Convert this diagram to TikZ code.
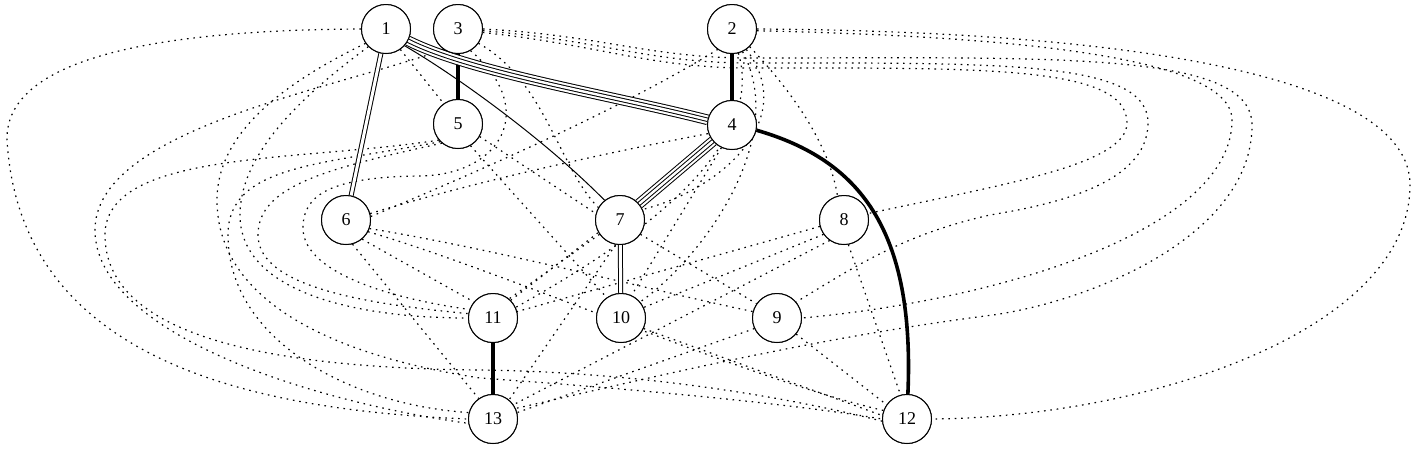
\documentclass[tikz,border=0pt]{standalone}
\usepackage{fontspec}
\setmainfont{Liberation Serif}
\begin{document}
\begin{tikzpicture}[x=1pt,y=-1pt,
  v/.style={circle,draw,line width=1pt,minimum size=49pt,inner sep=0pt,fill=white,font=\fontsize{18}{18}\selectfont},
  dt/.style={line width=1.2pt,dash pattern=on 1.6pt off 4.8pt},
  thk/.style={line width=3.6pt},
  sol/.style={line width=1pt},
  dbl/.style={double,double distance=3pt,line width=1pt},
  quad/.style={double,double distance=2.4pt,line width=1pt,preaction={draw,double,double distance=8.6pt,line width=1pt}}
]
\useasboundingbox (0,0) rectangle (1415,451);
\node[v] (n1) at (386,29) {1};
\node[v] (n3) at (458,29) {3};
\node[v] (n2) at (732,29) {2};
\node[v] (n5) at (458,124) {5};
\node[v] (n4) at (732,125) {4};
\node[v] (n6) at (346,220) {6};
\node[v] (n7) at (620,220) {7};
\node[v] (n8) at (844,220) {8};
\node[v] (n11) at (493,318) {11};
\node[v] (n10) at (621,318) {10};
\node[v] (n9) at (777,318) {9};
\node[v] (n13) at (493,419) {13};
\node[v] (n12) at (907,419) {12};

% right loops
\draw[dt] (n2.east) .. controls (1100,31) and (1410,70) .. (1410,185) .. controls (1410,330) and (1150,417) .. (n12.east);
\draw[dt] (n2.-4) .. controls (1000,36) and (1232,55) .. (1232,120) .. controls (1232,230) and (1000,300) .. (n9.east);
\draw[dt] (n3.east) .. controls (600,35) and (650,58) .. (750,58) .. controls (1050,58) and (1252,50) .. (1252,125) .. controls (1252,240) and (1080,305) .. (985,316) .. controls (800,340) and (620,385) .. (n13.25);
\draw[dt] (n3.-4) .. controls (600,40) and (650,63) .. (750,63) .. controls (1000,63) and (1148,60) .. (1148,123) .. controls (1148,185) and (1050,205) .. (990,215) .. controls (900,235) and (850,270) .. (n9.40);
\draw[dt] (n3.-8) .. controls (600,45) and (650,68) .. (750,68) .. controls (980,68) and (1127,65) .. (1127,123) .. controls (1127,165) and (1000,185) .. (n8.15);

% left loops
\draw[dt] (n1.west) .. controls (150,30) and (5,60) .. (7,140) .. controls (20,360) and (250,410) .. (n13.west);
\draw[dt] (n3.235) .. controls (330,90) and (95,130) .. (95,230) .. controls (95,330) and (300,400) .. (n13.190);
\draw[dt] (n5.220) .. controls (300,162) and (105,150) .. (105,235) .. controls (105,330) and (250,368) .. (480,370) .. controls (650,372) and (800,400) .. (n12.185);
\draw[dt] (n1.215) .. controls (290,80) and (217,130) .. (217,200) .. controls (217,300) and (330,355) .. (480,378) .. controls (650,390) and (800,405) .. (n12.180);
\draw[dt] (n1.225) .. controls (310,90) and (240,150) .. (240,215) .. controls (240,290) and (350,318) .. (n11.west);
\draw[dt] (n5.225) .. controls (320,165) and (228,165) .. (228,235) .. controls (228,340) and (350,405) .. (n13.165);
\draw[dt] (n5.230) .. controls (330,168) and (258,185) .. (258,235) .. controls (258,290) and (380,305) .. (n11.170);
\draw[dt] (n3.-60) .. controls (540,110) and (500,175) .. (420,176) .. controls (330,177) and (303,195) .. (303,228) .. controls (303,275) and (400,300) .. (n11.160);

% middle
\draw[dt] (n1.-55) -- (n5.125);
\draw[dt] (n6.15) .. controls (480,180) and (620,150) .. (n4.200);
\draw[dt] (n6.8) .. controls (470,175) and (620,110) .. (n2.235);
\draw[dt] (n6.-20) .. controls (500,250) and (650,290) .. (n9.165);
\draw[dt] (n6.-28) .. controls (500,270) and (750,380) .. (n12.160);
\draw[dt] (n6.-75) -- (n13.125);
\draw[dt] (n6.-50) -- (n11.140);
\draw[dt] (n5.-30) -- (n7.165);
\draw[dt] (n5.-60) -- (n10.125);
\draw[dt] (n4.225) -- (n11.45);
\draw[dt] (n4.245) -- (n10.65);
\draw[dt] (n2.-55) .. controls (800,120) and (720,190) .. (n7.25);
\draw[dt] (n2.-45) .. controls (800,100) and (830,150) .. (n8.105);
\draw[dt] (n2.-65) .. controls (790,140) and (700,260) .. (n10.40);
\draw[dt] (n2.-75) .. controls (770,160) and (600,260) .. (n11.25);
\draw[dt] (n3.-35) .. controls (545,80) and (560,170) .. (n7.150);
\draw[dt] (n7.-100) -- (n13.50);
\draw[dt] (n7.-35) -- (n9.145);
\draw[dt] (n7.215) -- (n11.50);
\draw[dt] (n8.195) -- (n11.15);
\draw[dt] (n8.215) -- (n10.25);
\draw[dt] (n8.235) -- (n13.35);
\draw[dt] (n8.-80) -- (n12.105);
\draw[dt] (n9.-40) -- (n12.145);
\draw[dt] (n9.205) -- (n13.15);
\draw[dt] (n10.-25) -- (n12.172);

% solid
\draw[dbl] (n1) -- (n6);
\draw[thk] (n3) -- (n5);
\draw[thk] (n2) -- (n4);
\draw[quad] (n1.-28) .. controls (470,72) and (610,95) .. (n4.168);
\draw[sol] (n1.-42) .. controls (450,72) and (540,135) .. (n7.128);
\draw[quad] (n4) -- (n7);
\draw[dbl] (n7) -- (n10);
\draw[thk] (n4.-12) .. controls (860,160) and (915,230) .. (n12.88);
\draw[thk] (n11) -- (n13);

\foreach \n in {1,...,13} {\node[v] at (n\n) {\n};}
\end{tikzpicture}
\end{document}
